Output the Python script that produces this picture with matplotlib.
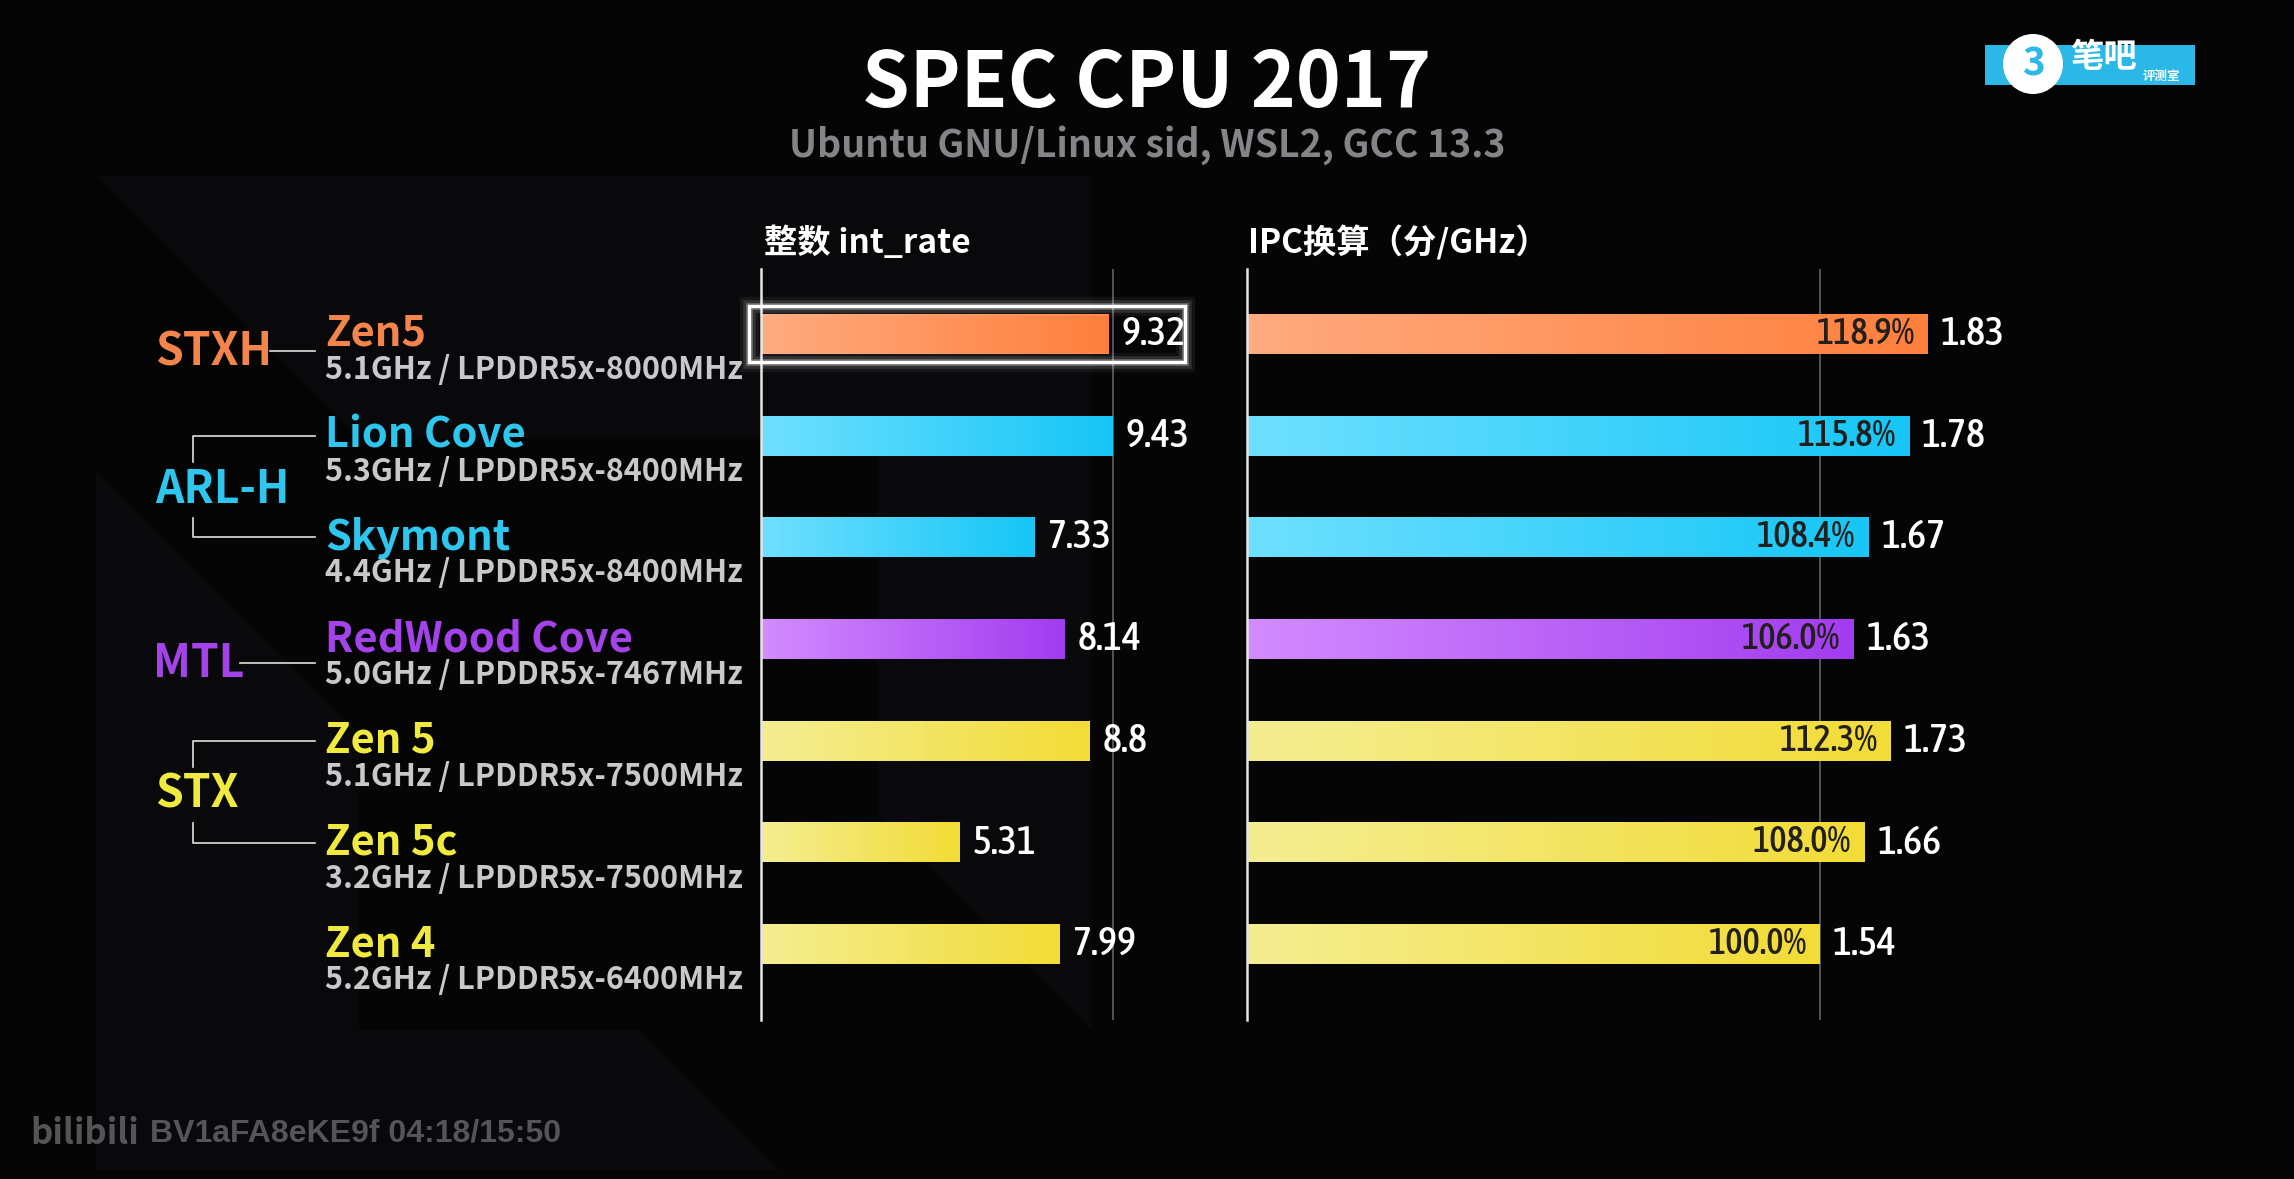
import numpy as np
import matplotlib
matplotlib.use('Agg')
from matplotlib import pyplot as plt
from matplotlib import font_manager
from matplotlib.font_manager import FontProperties
from matplotlib.colors import LinearSegmentedColormap
from matplotlib.patches import Polygon, Rectangle, Circle

# data
cores = ['Zen5', 'Lion Cove', 'Skymont', 'RedWood Cove', 'Zen 5', 'Zen 5c', 'Zen 4']
specs = ['5.1GHz / LPDDR5x-8000MHz', '5.3GHz / LPDDR5x-8400MHz', '4.4GHz / LPDDR5x-8400MHz',
         '5.0GHz / LPDDR5x-7467MHz', '5.1GHz / LPDDR5x-7500MHz', '3.2GHz / LPDDR5x-7500MHz',
         '5.2GHz / LPDDR5x-6400MHz']
platform = ['STXH', 'ARL-H', 'ARL-H', 'MTL', 'STX', 'STX', 'STX']
int_rate = [9.32, 9.43, 7.33, 8.14, 8.8, 5.31, 7.99]
ipc = [1.83, 1.78, 1.67, 1.63, 1.73, 1.66, 1.54]
ipc_pct = ['118.9%', '115.8%', '108.4%', '106.0%', '112.3%', '108.0%', '100.0%']
int_ref = 9.43
ipc_ref = 1.54

text_col = {'STXH': '#f3854c', 'ARL-H': '#2fc6ee', 'MTL': '#a443ea', 'STX': '#f1ea3e'}
bar_col = {'STXH': ('#ffab80', '#ff7f3c'), 'ARL-H': ('#6fe0ff', '#16c6f6'),
           'MTL': ('#d38cff', '#a23cf0'), 'STX': ('#f4ee92', '#f2dc36')}

CJK = ['Noto Sans CJK SC', 'DejaVu Sans']
plt.rcParams['font.family'] = CJK


def pick_condensed():
    # look for any narrow / condensed face for the numbers
    best = None
    for f in font_manager.fontManager.ttflist:
        narrow = ('Condensed' in f.name or 'Narrow' in f.name
                  or str(f.stretch) in ('condensed', 'semi-condensed', 'extra-condensed'))
        if not narrow or f.style != 'normal':
            continue
        w = f.weight if isinstance(f.weight, (int, float)) else 400
        score = abs(w - 500)
        if best is None or score < best[0]:
            best = (score, f.fname)
    return best[1] if best else None


cond_file = pick_condensed()


def num_font(size):
    if cond_file:
        return FontProperties(fname=cond_file, size=size)
    return FontProperties(family='Noto Sans CJK SC', size=size * 0.85)


W, H = 2294, 1179
BG = '#050506'
fig = plt.figure(figsize=(W / 100, H / 100), dpi=100, facecolor=BG)

# overlay in pixel coordinates
ov = fig.add_axes([0, 0, 1, 1], zorder=0)
ov.set_xlim(0, W)
ov.set_ylim(H, 0)
ov.axis('off')
ov.set_facecolor(BG)

# faint logo shape in the background
logo1 = [(96, 176), (1092, 176), (1092, 1030), (877, 813), (877, 439), (359, 439)]
logo2 = [(96, 470), (359, 733), (359, 1030), (640, 1030), (780, 1170), (96, 1170)]
for poly in (logo1, logo2):
    ov.add_patch(Polygon(poly, closed=True, facecolor='#09090b', edgecolor='none', zorder=0))

ov.text(1147, 84, 'SPEC CPU 2017', color='white', fontsize=55, fontweight='bold',
        ha='center', va='center')
ov.text(1147, 145, 'Ubuntu GNU/Linux sid, WSL2, GCC 13.3', color='#858589', fontsize=27,
        fontweight='bold', ha='center', va='center')
ov.text(764, 243, '整数 int_rate', color='white', fontsize=24, fontweight='bold',
        ha='left', va='center')
ov.text(1248, 243, 'IPC换算（分/GHz）', color='white', fontsize=24, fontweight='bold',
        ha='left', va='center')

# bar axes geometry (pixels)
top_px, bot_px = 269, 1020
row_px = 101.7
first_px = 334
ylim_top = -(first_px - top_px) / row_px
ylim_bot = ylim_top + (bot_px - top_px) / row_px
bar_h = 40 / row_px


def make_ax(left_px, right_px):
    ax = fig.add_axes([left_px / W, 1 - bot_px / H, (right_px - left_px) / W, (bot_px - top_px) / H],
                      zorder=2)
    ax.set_facecolor('none')
    ax.set_ylim(ylim_bot, ylim_top)
    for sp in ['top', 'right', 'bottom']:
        ax.spines[sp].set_visible(False)
    ax.spines['left'].set_color('#e6e6e6')
    ax.spines['left'].set_linewidth(1.8)
    ax.set_xticks([])
    ax.set_yticks([])
    return ax


sc1 = 37.3    # px per int_rate unit
sc2 = 372.0   # px per IPC unit
ax1 = make_ax(761, 761 + 12.8 * sc1)
ax1.set_xlim(0, 12.8)
ax2 = make_ax(1247, 1247 + 2.1 * sc2)
ax2.set_xlim(0, 2.1)


def grad_bars(ax, values):
    ypos = np.arange(len(values))
    bars = ax.barh(ypos, values, height=bar_h, color='none', edgecolor='none')
    for b, p in zip(bars, platform):
        c0, c1 = bar_col[p]
        cmap = LinearSegmentedColormap.from_list('g', [c0, c1])
        g = np.linspace(0, 1, 256).reshape(1, -1)
        ax.imshow(g, cmap=cmap, aspect='auto', zorder=2,
                  extent=[b.get_x(), b.get_x() + b.get_width(), b.get_y() + b.get_height(), b.get_y()])
    ax.set_ylim(ylim_bot, ylim_top)
    return ypos


y1 = grad_bars(ax1, int_rate)
ax1.axvline(int_ref, color='#5a5a5e', lw=1.3, zorder=1)
for y, v in zip(y1, int_rate):
    ax1.annotate(f'{v:g}', (v, y), xytext=(13, 0), textcoords='offset pixels', color='white',
                 fontproperties=num_font(29), ha='left', va='center')

# highlight box around first bar
pad_x = 12 / sc1
for lw, a in [(14, 0.06), (9, 0.12), (5, 0.25), (2.5, 1.0)]:
    ax1.add_patch(Rectangle((-pad_x, -28 / row_px), int_rate[0] + 2.36, 56 / row_px, fill=False,
                            edgecolor='white', lw=lw, alpha=a, clip_on=False, zorder=5))

y2 = grad_bars(ax2, ipc)
ax2.axvline(ipc_ref, color='#5a5a5e', lw=1.3, zorder=1)
for y, v, pct in zip(y2, ipc, ipc_pct):
    ax2.annotate(pct, (v, y), xytext=(-13, 0), textcoords='offset pixels', color='#231f1c',
                 fontproperties=num_font(26.5), ha='right', va='center', zorder=4)
    ax2.annotate(f'{v:.2f}', (v, y), xytext=(13, 0), textcoords='offset pixels', color='white',
                 fontproperties=num_font(29), ha='left', va='center')

# row labels
for i, (c, sp, p) in enumerate(zip(cores, specs, platform)):
    yc = first_px + i * row_px
    ov.text(325, yc, c, color=text_col[p], fontsize=30, fontweight='bold', ha='left', va='center')
    ov.text(325, yc + 36, sp, color='#c9c9cc', fontsize=22, fontweight='bold', ha='left', va='center')

# platform labels and connectors
lc = '#e0e0e0'
ov.text(155, 352, 'STXH', color=text_col['STXH'], fontsize=32, fontweight='bold', ha='left', va='center')
ov.plot([270, 315], [351, 351], color=lc, lw=1.2)
ov.text(153, 664, 'MTL', color=text_col['MTL'], fontsize=32, fontweight='bold', ha='left', va='center')
ov.plot([240, 315], [663, 663], color=lc, lw=1.2)
for name, ya, yb in [('ARL-H', 1, 2), ('STX', 4, 5)]:
    ta = first_px + ya * row_px
    tb = first_px + yb * row_px
    ym = (ta + tb) / 2 + 3
    ov.text(155, ym, name, color=text_col[name], fontsize=32, fontweight='bold', ha='left', va='center')
    ov.plot([315, 193, 193], [ta, ta, ym - 28], color=lc, lw=1.2)
    ov.plot([315, 193, 193], [tb, tb, ym + 28], color=lc, lw=1.2)

# watermarks
ov.text(30, 1134, 'bilibili', color='#555558', fontsize=25, fontweight='bold', ha='left', va='center')
ov.text(150, 1134, 'BV1aFA8eKE9f 04:18/15:50', color='#555558', fontsize=23, fontweight='bold',
        family=['Liberation Sans', 'DejaVu Sans'], ha='left', va='center')
ov.add_patch(Rectangle((1985, 45), 210, 40, facecolor='#2bb8e6', edgecolor='none'))
ov.add_patch(Circle((2033, 64), 30, facecolor='white', edgecolor='none'))
ov.text(2033, 64, '3', color='#2bb8e6', fontsize=28, fontweight='bold', ha='center', va='center')
ov.text(2070, 58, '笔吧', color='white', fontsize=24, fontweight='bold', ha='left', va='center')
ov.text(2143, 76, '评测室', color='white', fontsize=9, fontweight='bold', ha='left', va='center')

fig.savefig('out.png', dpi=100, facecolor=BG)
